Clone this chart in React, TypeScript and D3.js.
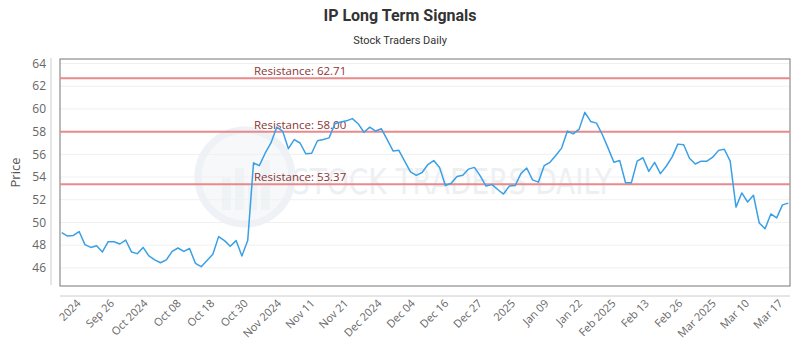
import React from "react";
import * as d3 from "d3";

const prices: number[] = [
  49.1, 48.8, 48.85, 49.2, 48.05, 47.8, 47.95, 47.4, 48.3, 48.3,
  48.1, 48.45, 47.4, 47.25, 47.8, 47.05, 46.7, 46.45, 46.7, 47.45,
  47.75, 47.45, 47.7, 46.4, 46.1, 46.65, 47.2, 48.75, 48.4, 47.9,
  48.4, 47.05, 48.4, 55.25, 55.0, 56.1, 57.0, 58.4, 58.05, 56.5,
  57.3, 57.0, 56.05, 56.1, 57.2, 57.3, 57.45, 58.7, 58.85, 58.95,
  59.15, 58.7, 57.95, 58.4, 58.05, 58.25, 57.3, 56.3, 56.35, 55.4,
  54.45, 54.15, 54.4, 55.1, 55.45, 54.85, 53.25, 53.45, 54.05, 54.15,
  54.7, 54.85, 54.1, 53.2, 53.35, 52.9, 52.5, 53.2, 53.25, 54.3,
  54.8, 53.75, 53.55, 55.0, 55.3, 55.9, 56.55, 58.05, 57.8, 58.2,
  59.7, 58.9, 58.75, 57.75, 56.55, 55.3, 55.45, 53.5, 53.5, 55.4,
  55.7, 54.5, 55.3, 54.3, 54.95, 55.75, 56.9, 56.85, 55.65, 55.15,
  55.4, 55.4, 55.75, 56.35, 56.45, 55.4, 51.35, 52.6, 51.8, 52.4,
  49.95, 49.45, 50.75, 50.4, 51.55, 51.7,
];

const xLabels: string[] = [
  "2024", "Sep 26", "Oct 2024", "Oct 08", "Oct 18", "Oct 30", "Nov 2024", "Nov 11",
  "Nov 21", "Dec 2024", "Dec 04", "Dec 16", "Dec 27", "2025", "Jan 09", "Jan 22",
  "Feb 2025", "Feb 13", "Feb 26", "Mar 2025", "Mar 10", "Mar 17",
];

const yTicks: number[] = [46, 48, 50, 52, 54, 56, 58, 60, 62, 64];
const resistanceLevels: number[] = [62.71, 58.0, 53.37];

const title = "IP Long Term Signals";
const subtitle = "Stock Traders Daily";
const watermark = "STOCK TRADERS DAILY";

export default function App() {
  const W = 800;
  const H = 350;
  const box = { left: 60, right: 790, top: 59, bottom: 286 };

  const x = d3.scaleLinear().domain([0, prices.length - 1]).range([61.7, 788.3]);
  const y = d3.scaleLinear().domain([44.4, 64.4]).range([box.bottom, box.top]);
  const labelPos = d3.scaleLinear().domain([0, xLabels.length - 1]).range([81.5, 783.5]);

  const line = d3
    .line<number>()
    .x((_, i) => x(i))
    .y((d) => y(d));

  const font = "'Open Sans', 'DejaVu Sans', sans-serif";

  return (
    <svg
      width={W}
      height={H}
      style={{ position: "absolute", left: 0, top: 0, background: "#fff" }}
      fontFamily={font}
    >
      <rect x={0} y={0} width={W} height={H} fill="#fff" />
      <text x={400} y={21} textAnchor="middle" fontSize={16} fontWeight="bold" fill="#333" fontFamily="Roboto, sans-serif">
        {title}
      </text>
      <text x={400} y={44} textAnchor="middle" fontSize={11} fill="#333" fontFamily="Roboto, sans-serif">
        {subtitle}
      </text>

      {/* watermark */}
      <g opacity={0.6}>
        <circle cx={245} cy={177} r={47} fill="#f2f5f8" stroke="#e3e9ef" strokeWidth={7} />
        <rect x={222} y={178} width={9} height={32} fill="#e6ecf1" />
        <rect x={235} y={168} width={9} height={42} fill="#e6ecf1" />
        <rect x={248} y={184} width={9} height={26} fill="#e6ecf1" />
        <rect x={261} y={160} width={9} height={50} fill="#e6ecf1" />
        <text
          x={292}
          y={194}
          fontSize={35}
          fill="#e2e7ec"
          textLength={320}
          lengthAdjust="spacingAndGlyphs"
          fontFamily="'DejaVu Sans Condensed', 'DejaVu Sans', sans-serif"
        >
          {watermark}
        </text>
      </g>

      {/* gridlines */}
      {yTicks.map((t) => (
        <line key={t} x1={box.left} x2={box.right} y1={y(t)} y2={y(t)} stroke="#f0f0f0" strokeWidth={1} />
      ))}

      {/* plot border */}
      <rect x={box.left} y={box.top} width={box.right - box.left} height={box.bottom - box.top} fill="none" stroke="#777" strokeWidth={1} />

      {/* y axis */}
      <line x1={51} x2={51} y1={58} y2={285} stroke="#ccc" strokeWidth={1} />
      {yTicks.map((t) => (
        <text key={t} x={46} y={y(t)} dy="0.35em" textAnchor="end" fontSize={12} fill="#666">
          {t}
        </text>
      ))}
      <text transform={`translate(20,${(box.top + box.bottom) / 2}) rotate(-90)`} textAnchor="middle" fontSize={13} fill="#555">
        Price
      </text>

      {/* x axis */}
      <line x1={box.left} x2={box.right} y1={296} y2={296} stroke="#ccc" strokeWidth={1} />
      {xLabels.map((l, i) => (
        <text
          key={l + i}
          transform={`translate(${labelPos(i)},304) rotate(-45)`}
          textAnchor="end"
          fontSize={11}
          fill="#666"
        >
          {l}
        </text>
      ))}

      {/* resistance */}
      {resistanceLevels.map((r) => (
        <g key={r}>
          <line x1={box.left} x2={box.right} y1={y(r)} y2={y(r)} stroke="#e8898b" strokeWidth={2} />
          <text x={254} y={y(r) - 3} fontSize={11.5} fill="#8b3535">
            {`Resistance: ${r.toFixed(2)}`}
          </text>
        </g>
      ))}

      {/* price line */}
      <path d={line(prices) || ""} fill="none" stroke="#3aa0e6" strokeWidth={1.5} strokeLinejoin="round" />
    </svg>
  );
}
